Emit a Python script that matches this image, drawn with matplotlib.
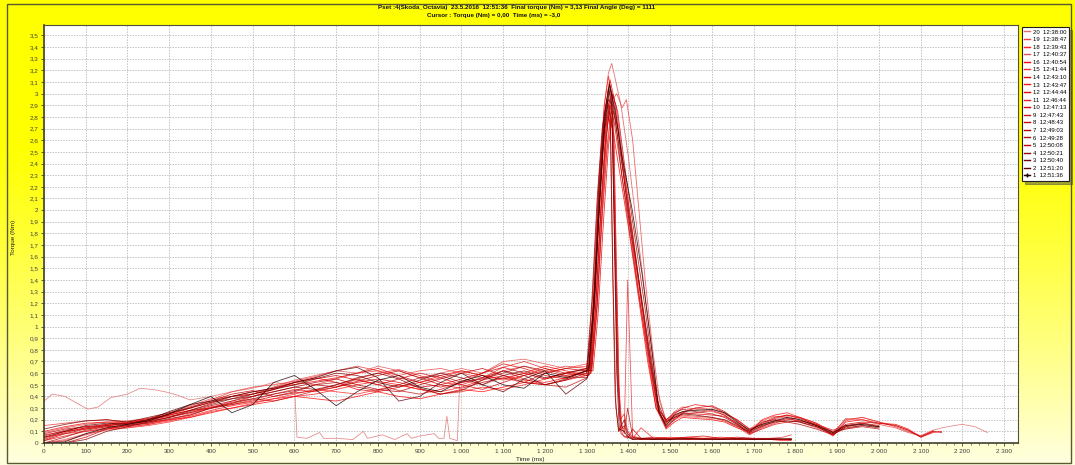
import matplotlib
matplotlib.use("Agg")
import numpy as np
from matplotlib import pyplot as plt
from matplotlib.lines import Line2D
from matplotlib.patches import Rectangle

# legend: run number, time of the run, colour of the trace
RUNS = [20, 19, 18, 17, 16, 15, 14, 13, 12, 11, 10, 9, 8, 7, 6, 5, 4, 3, 2, 1]
RUN_TIMES = ["12:38:00", "12:38:47", "12:39:43", "12:40:37", "12:40:54", "12:41:44",
             "12:43:10", "12:43:47", "12:44:44", "12:46:44", "12:47:13", "12:47:43",
             "12:48:43", "12:49:03", "12:49:28", "12:50:08", "12:50:21", "12:50:40",
             "12:51:20", "12:51:36"]
RUN_COLORS = ["#e07070", "#f04040", "#ff2020", "#e05050", "#ff0000", "#f03030",
              "#e00000", "#ff1010", "#f00000", "#e82020", "#d80000", "#c81010",
              "#d00000", "#b80000", "#a81010", "#c00000", "#900000", "#7a0000",
              "#5a0000", "#200000"]

# torque (Nm) before the tightening peak, sampled every 50 ms
RAMP_TIME = [0, 50, 100, 150, 200, 250, 300, 350, 400, 450, 500, 550, 600, 650,
             700, 750, 800, 850, 900, 950, 1000, 1050, 1100, 1150, 1200, 1250, 1300]
RAMP_TORQUE = {
    1: [0.00, 0.01, 0.08, 0.13, 0.16, 0.19, 0.25, 0.33, 0.40, 0.26, 0.33, 0.52, 0.58, 0.46,
        0.32, 0.44, 0.54, 0.58, 0.48, 0.44, 0.53, 0.58, 0.50, 0.47, 0.60, 0.56, 0.62],
    2: [0.05, 0.10, 0.15, 0.17, 0.16, 0.20, 0.27, 0.33, 0.36, 0.40, 0.44, 0.47, 0.52, 0.56,
        0.62, 0.65, 0.56, 0.36, 0.40, 0.52, 0.60, 0.50, 0.44, 0.55, 0.62, 0.42, 0.55],
    3: [0.12, 0.16, 0.19, 0.20, 0.18, 0.22, 0.26, 0.30, 0.35, 0.38, 0.42, 0.46, 0.50, 0.55,
        0.60, 0.58, 0.52, 0.48, 0.54, 0.60, 0.56, 0.50, 0.58, 0.62, 0.56, 0.60, 0.64],
    4: [0.00, 0.00, 0.03, 0.10, 0.14, 0.18, 0.22, 0.28, 0.33, 0.38, 0.40, 0.44, 0.48, 0.46,
        0.50, 0.56, 0.60, 0.55, 0.47, 0.42, 0.45, 0.54, 0.62, 0.58, 0.50, 0.54, 0.60],
    5: [0.08, 0.12, 0.14, 0.16, 0.17, 0.20, 0.25, 0.31, 0.36, 0.42, 0.45, 0.40, 0.44, 0.50,
        0.48, 0.53, 0.58, 0.62, 0.56, 0.50, 0.47, 0.52, 0.56, 0.52, 0.60, 0.64, 0.62],
    6: [0.00, 0.05, 0.11, 0.14, 0.15, 0.17, 0.21, 0.24, 0.30, 0.34, 0.38, 0.42, 0.45, 0.50,
        0.52, 0.48, 0.45, 0.50, 0.56, 0.58, 0.52, 0.55, 0.60, 0.66, 0.62, 0.57, 0.56],
    7: [0.02, 0.08, 0.12, 0.15, 0.17, 0.19, 0.22, 0.27, 0.32, 0.36, 0.40, 0.44, 0.48, 0.52,
        0.55, 0.50, 0.46, 0.44, 0.50, 0.55, 0.60, 0.64, 0.58, 0.52, 0.50, 0.55, 0.62],
    8: [0.00, 0.00, 0.05, 0.12, 0.15, 0.19, 0.24, 0.28, 0.30, 0.33, 0.36, 0.40, 0.43, 0.45,
        0.48, 0.52, 0.55, 0.52, 0.48, 0.50, 0.55, 0.60, 0.65, 0.60, 0.55, 0.60, 0.64],
    9: [0.06, 0.11, 0.14, 0.15, 0.16, 0.20, 0.23, 0.26, 0.30, 0.35, 0.38, 0.36, 0.40, 0.45,
        0.50, 0.55, 0.50, 0.45, 0.42, 0.46, 0.52, 0.56, 0.62, 0.55, 0.50, 0.48, 0.56],
    10: [0.03, 0.09, 0.13, 0.15, 0.17, 0.20, 0.25, 0.30, 0.35, 0.40, 0.42, 0.46, 0.52, 0.55,
         0.58, 0.54, 0.50, 0.55, 0.60, 0.56, 0.50, 0.46, 0.52, 0.58, 0.64, 0.60, 0.58],
    11: [0.00, 0.02, 0.07, 0.12, 0.15, 0.17, 0.20, 0.24, 0.30, 0.33, 0.37, 0.42, 0.46, 0.44,
         0.48, 0.55, 0.60, 0.63, 0.58, 0.52, 0.50, 0.56, 0.65, 0.70, 0.64, 0.58, 0.60],
    12: [0.10, 0.14, 0.17, 0.18, 0.17, 0.18, 0.22, 0.26, 0.31, 0.34, 0.40, 0.46, 0.52, 0.56,
         0.52, 0.46, 0.44, 0.48, 0.52, 0.58, 0.62, 0.58, 0.55, 0.60, 0.66, 0.62, 0.58],
    13: [0.02, 0.06, 0.10, 0.13, 0.14, 0.16, 0.19, 0.23, 0.28, 0.32, 0.35, 0.38, 0.40, 0.42,
         0.46, 0.50, 0.53, 0.50, 0.46, 0.44, 0.48, 0.54, 0.58, 0.54, 0.52, 0.56, 0.62],
    14: [0.04, 0.10, 0.13, 0.16, 0.18, 0.21, 0.24, 0.28, 0.34, 0.40, 0.44, 0.47, 0.50, 0.53,
         0.56, 0.60, 0.64, 0.58, 0.52, 0.48, 0.52, 0.60, 0.68, 0.64, 0.58, 0.55, 0.62],
    15: [0.15, 0.17, 0.19, 0.20, 0.18, 0.20, 0.24, 0.30, 0.37, 0.44, 0.48, 0.50, 0.53, 0.57,
         0.62, 0.66, 0.62, 0.56, 0.52, 0.56, 0.62, 0.58, 0.54, 0.58, 0.62, 0.66, 0.64],
    16: [0.07, 0.10, 0.12, 0.14, 0.15, 0.18, 0.20, 0.22, 0.26, 0.30, 0.33, 0.36, 0.40, 0.38,
         0.36, 0.40, 0.44, 0.40, 0.38, 0.42, 0.46, 0.44, 0.48, 0.52, 0.50, 0.54, 0.58],
    17: [0.00, 0.03, 0.08, 0.11, 0.13, 0.16, 0.20, 0.25, 0.30, 0.36, 0.42, 0.48, 0.54, 0.58,
         0.62, 0.60, 0.66, 0.62, 0.56, 0.60, 0.64, 0.60, 0.70, 0.72, 0.68, 0.64, 0.66],
    18: [0.05, 0.08, 0.10, 0.12, 0.13, 0.15, 0.18, 0.22, 0.27, 0.30, 0.34, 0.38, 0.42, 0.46,
         0.44, 0.42, 0.46, 0.50, 0.46, 0.42, 0.44, 0.48, 0.46, 0.50, 0.55, 0.58, 0.62],
    19: [0.09, 0.13, 0.16, 0.18, 0.19, 0.21, 0.26, 0.32, 0.38, 0.40, 0.42, 0.48, 0.52, 0.50,
         0.55, 0.60, 0.62, 0.58, 0.62, 0.64, 0.60, 0.56, 0.62, 0.66, 0.60, 0.64, 0.68],
}

# run 20 has its own start: high offset, then a drop-out between ~600 and ~1000 ms
RUN20_TIME = [0, 20, 50, 80, 105, 130, 160, 200, 230, 260, 290, 320, 350, 400, 450, 500,
              550, 600, 606, 630, 660, 670, 700, 740, 765, 775, 810, 840, 870, 880, 900,
              935, 945, 958, 965, 972, 990, 996, 1050, 1100, 1150, 1200, 1250, 1300]
RUN20_TORQUE = [0.36, 0.42, 0.40, 0.34, 0.29, 0.31, 0.39, 0.42, 0.47, 0.46, 0.44, 0.41,
                0.37, 0.40, 0.44, 0.47, 0.52, 0.50, 0.05, 0.04, 0.09, 0.04, 0.04, 0.03,
                0.10, 0.04, 0.07, 0.03, 0.08, 0.04, 0.06, 0.08, 0.04, 0.04, 0.23, 0.04,
                0.02, 0.54, 0.50, 0.56, 0.60, 0.55, 0.60, 0.63]

# the tightening peak
PEAK_TIME = {
    1: [1305, 1318, 1330, 1342, 1355, 1368, 1385, 1409, 1433, 1457, 1473],
    2: [1305, 1318, 1330, 1342, 1352, 1360, 1366, 1372, 1378],
    3: [1300, 1315, 1328, 1340, 1352, 1362, 1380, 1400, 1425, 1450, 1470],
    4: [1300, 1312, 1325, 1337, 1348, 1356, 1362, 1368, 1376],
    5: [1312, 1325, 1338, 1350, 1362, 1374, 1392, 1414, 1438, 1460, 1476],
    6: [1308, 1320, 1332, 1344, 1354, 1361, 1367, 1374, 1380],
    7: [1308, 1320, 1332, 1345, 1357, 1368, 1384, 1404, 1428, 1452, 1470],
    8: [1302, 1315, 1328, 1340, 1350, 1357, 1363, 1370, 1377],
    9: [1302, 1316, 1330, 1343, 1355, 1366, 1384, 1405, 1430, 1455, 1472],
    10: [1310, 1322, 1334, 1345, 1355, 1362, 1368, 1375, 1382],
    11: [1310, 1322, 1335, 1348, 1358, 1370, 1386, 1406, 1428, 1450, 1468],
    12: [1305, 1318, 1330, 1344, 1356, 1366, 1382, 1400, 1422, 1446, 1466],
    13: [1306, 1318, 1330, 1342, 1352, 1359, 1366, 1373, 1380],
    14: [1315, 1327, 1340, 1352, 1363, 1375, 1390, 1410, 1432, 1455, 1474],
    15: [1310, 1322, 1334, 1346, 1356, 1364, 1370, 1377, 1384],
    16: [1300, 1312, 1325, 1338, 1350, 1362, 1380, 1400, 1422, 1446, 1466],
    17: [1305, 1318, 1330, 1342, 1352, 1360, 1370, 1382, 1400, 1420, 1444, 1466],
    18: [1312, 1324, 1336, 1348, 1358, 1365, 1371, 1378, 1385],
    19: [1312, 1325, 1338, 1350, 1362, 1372, 1385, 1395, 1410, 1425, 1440, 1458, 1475],
    20: [1308, 1320, 1333, 1346, 1358, 1368, 1385, 1405, 1428, 1452, 1470],
}
PEAK_TORQUE = {
    1: [0.65, 1.20, 2.00, 2.70, 3.08, 2.85, 2.45, 2.00, 1.44, 0.77, 0.26],
    2: [0.62, 1.30, 2.20, 2.80, 3.05, 2.90, 1.80, 0.60, 0.12],
    3: [0.64, 1.10, 1.90, 2.60, 2.95, 2.90, 2.50, 2.00, 1.40, 0.80, 0.35],
    4: [0.65, 1.20, 2.10, 2.70, 2.95, 2.85, 1.50, 0.40, 0.10],
    5: [0.62, 1.20, 2.10, 2.75, 3.00, 2.85, 2.35, 1.80, 1.20, 0.60, 0.25],
    6: [0.60, 1.30, 2.20, 2.85, 3.10, 2.95, 2.00, 0.70, 0.20],
    7: [0.62, 1.30, 2.20, 2.85, 3.05, 2.80, 2.30, 1.85, 1.30, 0.70, 0.30],
    8: [0.66, 1.30, 2.20, 2.75, 2.90, 2.70, 1.40, 0.30, 0.10],
    9: [0.56, 1.10, 2.00, 2.70, 2.90, 2.75, 2.30, 1.75, 1.15, 0.60, 0.28],
    10: [0.60, 1.20, 2.00, 2.60, 2.85, 2.70, 1.60, 0.50, 0.08],
    11: [0.60, 1.20, 2.10, 2.80, 3.02, 2.90, 2.45, 1.90, 1.30, 0.70, 0.30],
    12: [0.58, 1.20, 2.10, 2.85, 3.12, 2.95, 2.50, 1.95, 1.35, 0.75, 0.30],
    13: [0.64, 1.30, 2.30, 2.90, 3.15, 3.00, 1.90, 0.60, 0.20],
    14: [0.62, 1.10, 1.90, 2.55, 2.85, 2.70, 2.30, 1.80, 1.20, 0.65, 0.28],
    15: [0.66, 1.20, 2.00, 2.60, 2.95, 2.80, 1.70, 0.50, 0.14],
    16: [0.58, 1.00, 1.80, 2.50, 2.80, 2.70, 2.30, 1.85, 1.30, 0.70, 0.30],
    17: [0.66, 1.30, 2.20, 2.90, 3.18, 3.26, 3.10, 2.90, 2.45, 1.85, 1.15, 0.50],
    18: [0.64, 1.10, 1.90, 2.50, 2.80, 2.65, 1.50, 0.40, 0.08],
    19: [0.68, 1.20, 2.00, 2.60, 2.95, 3.00, 2.88, 2.95, 2.60, 2.00, 1.40, 0.80, 0.35],
    20: [0.66, 1.20, 2.00, 2.70, 3.00, 2.88, 2.40, 1.85, 1.25, 0.68, 0.30],
}

# runs that fall straight back to zero after the peak
FAST_TAIL_TIME = [1390, 1398, 1410, 1430, 1460, 1500, 1540, 1580, 1620, 1660, 1700,
                  1740, 1770, 1790]
FAST_TAIL_TORQUE = {
    2: [0.10, 0.05, 0.03, 0.04, 0.03, 0.03, 0.04, 0.03, 0.03, 0.04, 0.03, 0.03, 0.04, 0.03],
    4: [0.20, 0.08, 0.04, 0.03, 0.04, 0.03, 0.03, 0.04, 0.03, 0.03, 0.03, 0.04, 0.03, 0.03],
    6: [0.08, 0.30, 0.05, 0.04, 0.03, 0.04, 0.04, 0.03, 0.04, 0.03, 0.04, 0.03, 0.03, 0.04],
    8: [0.15, 0.06, 0.03, 0.03, 0.03, 0.04, 0.03, 0.03, 0.03, 0.04, 0.03, 0.03, 0.03, 0.02],
    10: [0.06, 0.04, 0.12, 0.04, 0.05, 0.04, 0.05, 0.06, 0.04, 0.05, 0.04, 0.04, 0.03, 0.03],
    13: [0.25, 0.10, 0.05, 0.03, 0.04, 0.03, 0.05, 0.04, 0.03, 0.03, 0.04, 0.03, 0.02, 0.03],
    15: [0.12, 1.40, 0.06, 0.04, 0.03, 0.04, 0.03, 0.04, 0.04, 0.03, 0.03, 0.04, 0.05, 0.07],
    18: [0.05, 0.06, 0.04, 0.13, 0.04, 0.05, 0.04, 0.04, 0.05, 0.04, 0.04, 0.03, 0.03, 0.04],
}

# runs that unwind slowly and keep a small residual torque
SLOW_TAIL_TIME = [1490, 1510, 1530, 1560, 1600, 1630, 1660, 1690, 1720, 1750, 1780, 1810,
                  1850, 1890, 1920, 1960, 2000, 2040, 2070, 2100, 2130, 2150, 2180, 2200,
                  2230, 2260]
SLOW_TAIL_TORQUE = {
    1: [0.15, 0.24, 0.27, 0.28, 0.29, 0.26, 0.18, 0.11, 0.16, 0.19, 0.22, 0.20, 0.15,
        0.09, 0.15, 0.16, 0.14],
    3: [0.18, 0.22, 0.25, 0.24, 0.22, 0.20, 0.15, 0.09, 0.15, 0.18, 0.19, 0.18, 0.14,
        0.08, 0.13, 0.15, 0.13],
    5: [0.13, 0.20, 0.26, 0.30, 0.32, 0.27, 0.19, 0.10, 0.17, 0.22, 0.24, 0.21, 0.16,
        0.07, 0.16, 0.18, 0.17, 0.15, 0.11, 0.05, 0.10, 0.09],
    7: [0.20, 0.26, 0.29, 0.27, 0.25, 0.22, 0.16, 0.10, 0.18, 0.20, 0.18, 0.16, 0.12,
        0.07, 0.14, 0.17, 0.15],
    9: [0.16, 0.22, 0.25, 0.26, 0.28, 0.24, 0.16, 0.08, 0.14, 0.19, 0.21, 0.19, 0.15,
        0.10, 0.12, 0.14, 0.12],
    11: [0.14, 0.21, 0.24, 0.23, 0.22, 0.19, 0.14, 0.07, 0.13, 0.17, 0.20, 0.22, 0.17,
         0.09, 0.20, 0.22, 0.18, 0.14, 0.10, 0.06, 0.10],
    12: [0.17, 0.25, 0.30, 0.33, 0.31, 0.26, 0.20, 0.12, 0.16, 0.21, 0.24, 0.22, 0.17,
         0.09, 0.14, 0.16],
    14: [0.19, 0.23, 0.26, 0.25, 0.24, 0.23, 0.17, 0.08, 0.12, 0.16, 0.18, 0.19, 0.16,
         0.11, 0.15, 0.17, 0.14],
    16: [0.12, 0.18, 0.22, 0.21, 0.20, 0.18, 0.13, 0.09, 0.20, 0.24, 0.26, 0.22, 0.15,
         0.06, 0.18, 0.20, 0.17, 0.16, 0.12, 0.05, 0.09, 0.10],
    17: [0.18, 0.27, 0.31, 0.29, 0.27, 0.24, 0.17, 0.11, 0.14, 0.18, 0.21, 0.18, 0.13,
         0.08, 0.12, 0.15, 0.14],
    19: [0.20, 0.24, 0.27, 0.30, 0.29, 0.25, 0.20, 0.12, 0.19, 0.23, 0.22, 0.18, 0.14,
         0.08, 0.21, 0.20, 0.16, 0.13, 0.09, 0.06, 0.11],
    20: [0.14, 0.20, 0.23, 0.22, 0.21, 0.20, 0.14, 0.10, 0.15, 0.20, 0.23, 0.20, 0.14,
         0.07, 0.19, 0.22, 0.18, 0.15, 0.11, 0.06, 0.11, 0.13, 0.15, 0.16, 0.14, 0.09],
}

TITLE_LINE_1 = ("Pset :4(Skoda_Octavia)  23.5.2016  12:51:36  Final torque (Nm) = 3,13 "
                "Final Angle (Deg) = 1111")
TITLE_LINE_2 = "Cursor : Torque (Nm) = 0,00  Time (ms) = -3,0"

FONT = "Liberation Sans"


def build_trace(run):
    """Concatenate the ramp, peak and tail pieces of one run."""
    if run == 20:
        t, q = list(RUN20_TIME), list(RUN20_TORQUE)
    else:
        t, q = list(RAMP_TIME), list(RAMP_TORQUE[run])
    t += PEAK_TIME[run]
    q += PEAK_TORQUE[run]
    if run in FAST_TAIL_TORQUE:
        tail = FAST_TAIL_TORQUE[run]
        t += FAST_TAIL_TIME[:len(tail)]
    else:
        tail = SLOW_TAIL_TORQUE[run]
        t += SLOW_TAIL_TIME[:len(tail)]
    q += tail
    return t, q


def y_label(v):
    s = f"{v:.1f}".replace(".", ",")
    return s[:-2] if s.endswith(",0") else s


def x_label(v):
    v = int(round(v))
    return f"{v // 1000} {v % 1000:03d}" if v >= 1000 else str(v)


W, H = 1075, 465
fig = plt.figure(figsize=(W / 100, H / 100), dpi=100)

# yellow gradient background
bg = fig.add_axes([0, 0, 1, 1], zorder=-10)
frac = np.linspace(0, 1, 256)[:, None]
blue = 0.88 * np.clip((frac - 0.3) / 0.7, 0, 1) ** 1.2
grad = np.dstack([np.ones_like(blue), np.ones_like(blue), blue])
bg.imshow(grad, aspect="auto", extent=[0, 1, 0, 1], origin="upper")
bg.set_xlim(0, 1)
bg.set_ylim(0, 1)
bg.axis("off")
fig.patches.append(Rectangle((7 / W, 2 / H), 1064 / W, 459 / H, transform=fig.transFigure,
                             fill=False, edgecolor="#5a5a30", linewidth=1.0))

ax = fig.add_axes([44 / W, 1 - 443 / H, (1018 - 44) / W, (443 - 25) / H])
ax.set_facecolor("white")

for run, color in zip(RUNS, RUN_COLORS):
    t, q = build_trace(run)
    ax.plot(t, q, color=color, linewidth=0.6, alpha=0.8, solid_joinstyle="round")

ax.set_xlim(0, 2333)
ax.set_ylim(0, 3.59)
xt = np.arange(0, 2301, 100)
yt = np.round(np.arange(0, 3.51, 0.1), 1)
ax.set_xticks(xt)
ax.set_xticklabels([x_label(v) for v in xt], fontsize=4.6, family=FONT, color="#404040")
ax.set_xticks(np.arange(0, 2333, 20), minor=True)
ax.set_yticks(yt)
ax.set_yticklabels([y_label(v) for v in yt], fontsize=4.6, family=FONT, color="#404040")
ax.tick_params(axis="both", which="major", length=2.5, width=0.6, pad=1.5, color="#404040")
ax.tick_params(axis="x", which="minor", length=1.2, width=0.5, color="#404040")
ax.grid(True, which="major", color="#b4b4b4", linestyle=(0, (1.6, 1.6)), linewidth=0.6)
ax.set_axisbelow(True)
for side in ["left", "bottom"]:
    ax.spines[side].set_linewidth(1.2)
    ax.spines[side].set_color("#404030")
for side in ["top", "right"]:
    ax.spines[side].set_linewidth(0.8)
    ax.spines[side].set_color("#505040")

fig.text(530 / W, 1 - 459 / H, "Time (ms)", fontsize=4.6, family=FONT, ha="center",
         va="center", color="#202020")
fig.text(14 / W, 1 - 237 / H, "Torque (Nm)", fontsize=4.6, family=FONT, ha="center",
         va="center", rotation=90, color="#202020")
fig.text(517 / W, 1 - 7 / H, TITLE_LINE_1, fontsize=4.5, family=FONT, weight="bold",
         ha="center", va="center", color="#101010")
fig.text(494 / W, 1 - 16 / H, TITLE_LINE_2, fontsize=4.5, family=FONT, weight="bold",
         ha="center", va="center", color="#101010")

handles = []
for run, color in zip(RUNS, RUN_COLORS):
    marker = "+" if run == 1 else None
    handles.append(Line2D([], [], color=color, linewidth=1.0, marker=marker, markersize=3))
labels = [f"{run}  {tm}" for run, tm in zip(RUNS, RUN_TIMES)]
leg = fig.legend(handles, labels, loc="upper left", bbox_to_anchor=(1022 / W, 1 - 27 / H),
                 prop={"family": FONT, "size": 4.3}, frameon=True, fancybox=False,
                 shadow=True, edgecolor="#202020", facecolor="white", framealpha=1,
                 borderpad=0.4, handlelength=1.0, handletextpad=0.5, labelspacing=0.4,
                 borderaxespad=0)
leg.get_frame().set_linewidth(0.8)

fig.savefig("out.png", dpi=100)
